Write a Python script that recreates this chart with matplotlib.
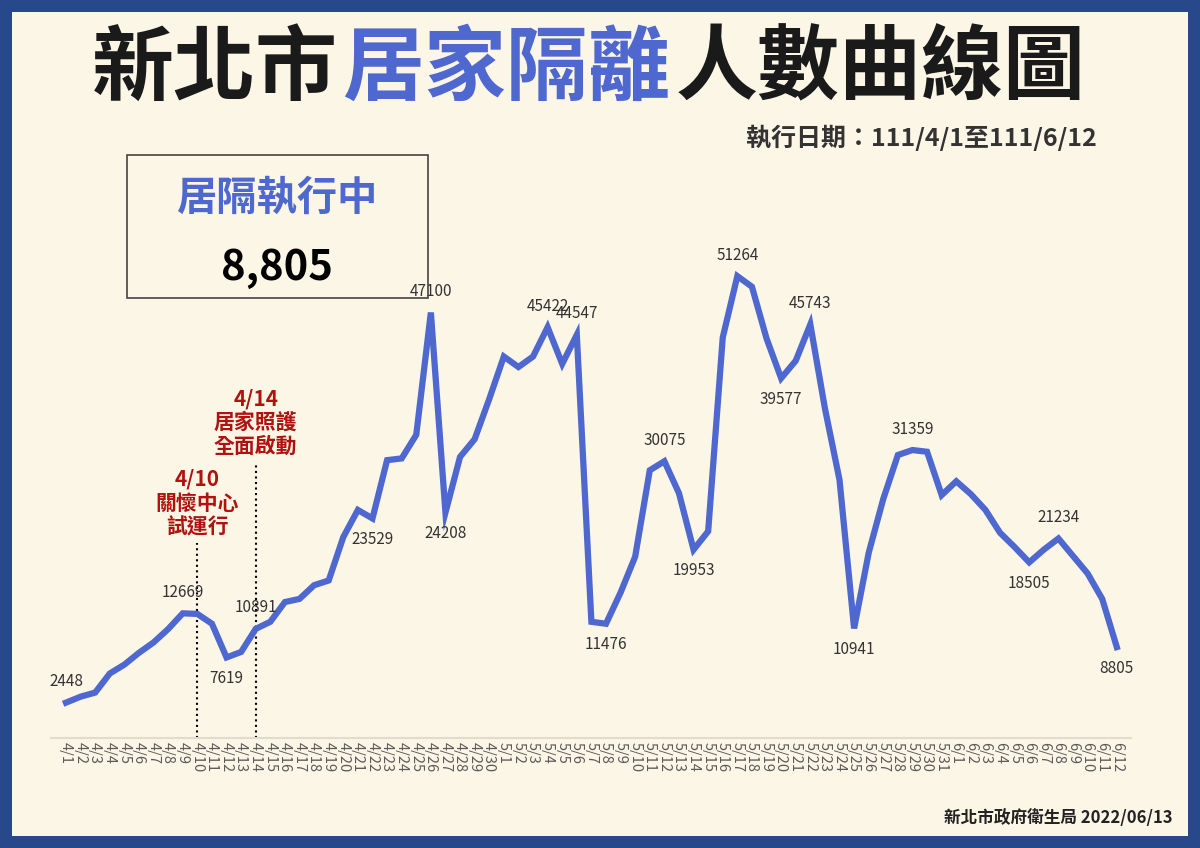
import matplotlib.pyplot as plt
from matplotlib.patches import Rectangle

plt.rcParams['font.family'] = ['Noto Sans CJK TC', 'DejaVu Sans']

dates = ([f"4/{d}" for d in range(1, 31)] + [f"5/{d}" for d in range(1, 32)]
         + [f"6/{d}" for d in range(1, 13)])
values = [
    2448, 3130, 3600, 5780, 6800, 8150, 9340, 10870, 12669, 12600,
    11480, 7619, 8250, 10891, 11700, 13960, 14320, 15890, 16430, 21400,
    24500, 23529, 30200, 30400, 33100, 47100, 24208, 30570, 32600, 37200,
    42060, 40860, 42060, 45422, 41220, 44547, 11700, 11476, 15050, 19160,
    29040, 30075, 26420, 19953, 22060, 44240, 51264, 50050, 44130, 39577,
    41580, 45743, 36130, 27950, 10941, 19600, 25770, 30790, 31359, 31160,
    26200, 27780, 26310, 24500, 21890, 20250, 18505, 19960, 21234, 19230,
    17230, 14320, 8805,
]
# (date, above?)
labelled = [("4/1", True), ("4/9", True), ("4/12", False), ("4/14", True),
            ("4/22", False), ("4/26", True), ("4/27", False), ("5/4", True),
            ("5/6", True), ("5/8", False), ("5/12", True), ("5/14", False),
            ("5/17", True), ("5/20", False), ("5/22", True), ("5/25", False),
            ("5/29", True), ("6/6", False), ("6/8", True), ("6/12", False)]

BLUE = "#4f68cf"
RED = "#b0120f"
BG = "#fcf6e6"

fig = plt.figure(figsize=(12, 8.48), dpi=100)
fig.patch.set_facecolor("#27488a")
fig.add_artist(Rectangle((12/1200, 12/848), 1 - 24/1200, 1 - 24/848,
                         transform=fig.transFigure, facecolor=BG, edgecolor="none", zorder=0))

ax = fig.add_axes([51.4/1200, 110/848, 1080/1200, 588/848])
ax.set_facecolor("none")
x = list(range(len(dates)))
ax.plot(x, values, color=BLUE, lw=4.5, solid_joinstyle="miter", zorder=3)
ax.set_xlim(-1, 73)
ax.set_ylim(-1600, 65700)
for s in ["top", "right", "left"]:
    ax.spines[s].set_visible(False)
ax.spines["bottom"].set_color("#e0dccf")
ax.spines["bottom"].set_linewidth(1.5)
ax.set_yticks([])
ax.set_xticks(x)
ax.set_xticklabels(dates, rotation=-90, fontsize=10.5, color="#5a5a5a")
ax.tick_params(axis="x", length=0, pad=3)

for d, above in labelled:
    i = dates.index(d)
    v = values[i]
    dy = 9 if above else -9
    ax.annotate(str(v), (i, v), xytext=(0, dy), textcoords="offset points",
                ha="center", va="bottom" if above else "top",
                fontsize=11, color="#333333", zorder=4)

# event markers
i10, i14 = dates.index("4/10"), dates.index("4/14")
ax.plot([i10, i10], [-1600, 20700], ls=":", color="black", lw=1.5, zorder=2)
ax.plot([i14, i14], [-1600, 30000], ls=":", color="black", lw=1.5, zorder=2)
ax.text(i10, 21400, "4/10\n關懷中心\n試運行", ha="center", va="bottom",
        fontsize=15, fontweight="bold", color=RED, linespacing=1.15)
ax.text(i14, 30600, "4/14\n居家照護\n全面啟動", ha="center", va="bottom",
        fontsize=15, fontweight="bold", color=RED, linespacing=1.15)

# title
fig.text(338/1200, 1 - 70/848, "新北市", ha="right", va="center", fontsize=59,
         fontweight="bold", color="#1a1a1a")
fig.text(342/1200, 1 - 70/848, "居家隔離", ha="left", va="center", fontsize=59,
         fontweight="bold", color=BLUE)
fig.text(676/1200, 1 - 70/848, "人數曲線圖", ha="left", va="center", fontsize=59,
         fontweight="bold", color="#1a1a1a")
fig.text(1097/1200, 1 - 138/848, "執行日期：111/4/1至111/6/12", ha="right",
         va="center", fontsize=18, fontweight="bold", color="#333333")

# box
fig.add_artist(Rectangle((127/1200, 1 - 298/848), 301/1200, 143/848,
                         transform=fig.transFigure, facecolor="none",
                         edgecolor="#444444", lw=1.2))
fig.text(277/1200, 1 - 198/848, "居隔執行中", ha="center", va="center",
         fontsize=29, fontweight="bold", color=BLUE)
fig.text(277/1200, 1 - 268/848, "8,805", ha="center", va="center",
         fontsize=30, fontweight="bold", color="black")

fig.text(1172/1200, 1 - 818/848, "新北市政府衛生局 2022/06/13", ha="right",
         va="center", fontsize=12, fontweight="bold", color="#222222")

fig.savefig("out.png", dpi=100, facecolor=fig.get_facecolor())
